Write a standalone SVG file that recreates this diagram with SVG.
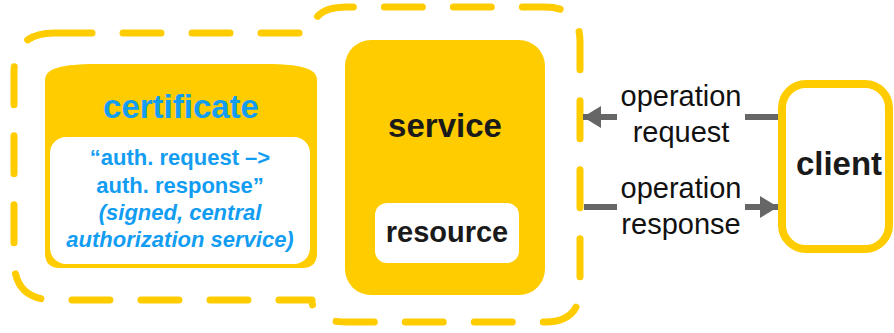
<svg xmlns="http://www.w3.org/2000/svg" width="894" height="333" viewBox="0 0 894 333">
  <style>
    .dash { fill: none; stroke: #FFCC00; stroke-width: 7; stroke-dasharray: 38 31; stroke-linecap: round; stroke-linejoin: round; }
    .yfill { fill: #FFCC00; }
    .wfill { fill: #FFFFFF; }
    .blue { font-family: "Liberation Sans", Arial, sans-serif; font-weight: bold; fill: #129DF2; text-anchor: middle; }
    .dark { font-family: "Liberation Sans", Arial, sans-serif; font-weight: bold; fill: #1A1A1A; text-anchor: middle; }
    .lbl { font-family: "Liberation Sans", Arial, sans-serif; font-size: 29px; fill: #111111; text-anchor: middle; }
    .conn { fill: none; stroke: #666666; stroke-width: 6; }
  </style>
  <defs>
    <marker id="arrow" markerUnits="userSpaceOnUse" markerWidth="20" markerHeight="24" refX="18" refY="11" orient="auto">
      <path d="M0,0 L18,11 L0,22 Z" fill="#666666"/>
    </marker>
  </defs>
  <rect width="894" height="333" fill="#FFFFFF"/>

  <g id="boundary">
    <path class="dash" d="M54,33 H312 Q312,7 347,7 H545 Q580,7 580,42 V288 Q580,322 545,322 H347 Q312,322 312,300 H54 Q14,300 14,260 V73 Q14,33 54,33 Z"/>
  </g>

  <g id="certificate">
    <path class="yfill" d="M45,80 C45,66 70,64 100,64 H262 C292,64 317,66 317,80 V253 Q317,268 302,268 H60 Q45,268 45,253 Z"/>
    <rect class="wfill" x="50" y="137" width="260" height="127" rx="16"/>
    <text class="blue" x="181" y="118" font-size="33">certificate</text>
    <text class="blue" x="180" y="165" font-size="22">“auth. request –&gt;</text>
    <text class="blue" x="180" y="193" font-size="22">auth. response”</text>
    <text class="blue" x="180" y="220" font-size="22" font-style="italic">(signed, central</text>
    <text class="blue" x="180" y="247" font-size="22" font-style="italic">authorization service)</text>
  </g>

  <g id="service">
    <rect class="yfill" x="345" y="40" width="200" height="255" rx="26"/>
    <text class="dark" x="445" y="137" font-size="33">service</text>
  </g>

  <g id="resource">
    <rect class="wfill" x="375" y="203" width="144" height="60" rx="12"/>
    <text class="dark" x="447" y="242" font-size="29">resource</text>
  </g>

  <g id="client">
    <rect x="782" y="84" width="107" height="165" rx="24" fill="#FFFFFF" stroke="#FFCC00" stroke-width="8"/>
    <text class="dark" x="839" y="175" font-size="33">client</text>
  </g>

  <g id="connectors">
    <g id="op-request">
      <path class="conn" d="M778,117 H745 M617,117 H583" marker-end="url(#arrow)"/>
      <text class="lbl" x="681" y="106">operation</text>
      <text class="lbl" x="681" y="142">request</text>
    </g>
    <g id="op-response">
      <path class="conn" d="M584,207 H617 M745,207 H778" marker-end="url(#arrow)"/>
      <text class="lbl" x="681" y="198">operation</text>
      <text class="lbl" x="681" y="234">response</text>
    </g>
  </g>
</svg>
